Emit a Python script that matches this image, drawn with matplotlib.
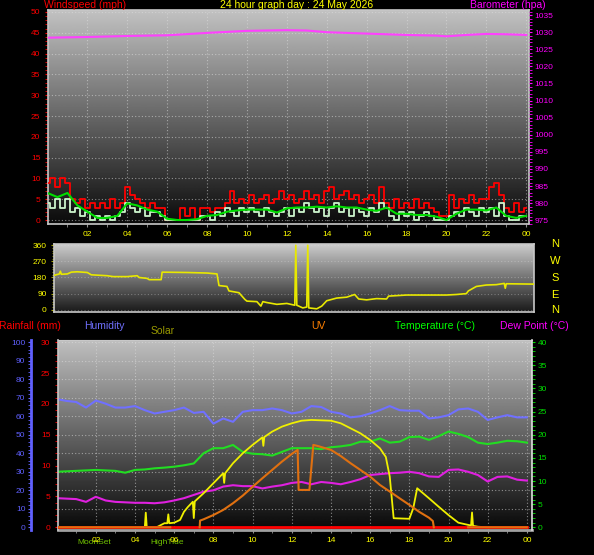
import numpy as np
import matplotlib
matplotlib.use('Agg')
import matplotlib.pyplot as plt
from matplotlib.ticker import MultipleLocator

plt.rcParams['font.family'] = ['Liberation Sans', 'DejaVu Sans']

W, H = 594, 555

# ---- top graph: wind (mph) every 15 min, 10-min avg every 30 min, barometer (hpa)
wind_hours = [i * 0.25 for i in range(97)]
gust = [9, 10, 8, 10, 9, 5, 4, 5,
        3, 4, 3, 4, 3, 5, 3, 4,
        8, 6, 5, 4, 3, 4, 3, 3,
        0, 0, 0, 3, 1, 3, 0, 3,
        3, 2, 3, 3, 4, 7, 4, 5,
        4, 6, 4, 5, 6, 4, 5, 7,
        5, 6, 4, 5, 7, 5, 6, 4,
        7, 8, 5, 6, 7, 5, 6, 4,
        5, 6, 4, 8, 4, 3, 5, 3,
        4, 3, 5, 3, 4, 3, 2, 1,
        1, 6, 3, 5, 4, 6, 4, 5,
        5, 8, 9, 6, 3, 2, 4, 2,
        3]
speed = [4, 3, 5, 3, 5, 2, 3, 1,
         2, 0, 1, 0, 1, 0, 1, 2,
         4, 3, 2, 3, 1, 2, 2, 1,
         0, 0, 0, 0, 0, 0, 0, 1,
         1, 0, 2, 1, 3, 2, 1, 3,
         2, 3, 2, 1, 3, 2, 1, 2,
         3, 1, 3, 2, 4, 3, 2, 3,
         1, 3, 4, 2, 3, 1, 3, 2,
         1, 3, 2, 4, 3, 1, 0, 2,
         1, 2, 0, 1, 2, 1, 0, 0,
         0, 1, 2, 1, 3, 2, 1, 3,
         2, 3, 1, 4, 1, 0, 0, 1,
         1]
avg_hours = [i * 0.5 for i in range(49)]
avg_wind = [6.5, 5.5, 6.5, 3.5, 2, 0.5, 0.5, 1, 4, 3.5, 2.5, 2, 0.3, 0, 0, 0.2,
            1, 1.2, 2, 2.3, 2.5, 2.5, 2.5, 1.8, 2.8, 3, 3, 3.2, 3, 3.3, 3, 3,
            2.5, 2.2, 3, 1.5, 1.5, 1.2, 1.2, 0.8, 0, 1.5, 2.5, 2.5, 2.3, 3, 1.0,
            0.5, 1]
baro_hours = [0, 2, 4, 6, 8, 10, 12, 13, 14, 16, 17, 18, 19.5, 20, 21, 22, 23, 24]
baro = [1028.4, 1028.6, 1028.9, 1029.1, 1029.8, 1030.4, 1030.6, 1030.5, 1030.0,
        1029.6, 1029.4, 1029.2, 1029.0, 1028.8, 1029.2, 1029.5, 1029.4, 1029.2]

# ---- middle graph: wind direction (deg)
dir_hours = [0.33, 0.6, 0.65, 0.7, 1.0, 1.2, 1.5, 2.0, 2.2, 3.0, 3.3, 4.0, 4.5, 4.6,
             5.0, 5.1, 5.7, 5.75, 7.0, 8.0, 8.5, 8.6, 9.0, 9.1, 9.6, 9.9, 10.0, 10.5,
             10.7, 10.8, 11.0, 11.5, 12.0, 12.4, 12.45, 12.5, 12.8, 13.0, 13.05, 13.1,
             13.5, 13.75, 14.0, 14.5, 15.0, 15.4, 15.6, 16.0, 16.5, 17.0, 17.1, 18.0,
             19.0, 20.0, 20.5, 21.0, 21.1, 21.5, 22.0, 22.5, 22.9, 22.95, 23.0, 24.4]
dir_deg = [192, 200, 215, 198, 200, 210, 212, 208, 195, 190, 185, 185, 190, 180,
           175, 168, 168, 210, 208, 205, 200, 135, 130, 105, 95, 57, 48, 45,
           20, 45, 40, 30, 35, 25, 360, 25, 10, 15, 360, 10,
           5, 20, 50, 65, 70, 85, 60, 55, 62, 60, 76, 82,
           82, 82, 85, 90, 105, 130, 138, 140, 147, 120, 145, 143]

# ---- bottom graph: humidity (%), temperature / dew point (C), solar, UV, rain
th_hours = [i * 0.5 for i in range(49)]
humidity = [69.3, 68.3, 67.7, 64.7, 68.5, 66.8, 64.7, 64.7, 65.5, 63.3, 61.5, 62.4,
            63.3, 64.7, 61.8, 62.4, 56.0, 58.8, 57.0, 62.4, 63.3, 63.3, 64.2, 63.3,
            61.5, 62.4, 65.5, 65.0, 62.4, 61.5, 59.4, 60.0, 61.5, 63.3, 65.5, 63.3,
            63.0, 63.0, 58.8, 59.4, 60.6, 63.7, 64.2, 62.4, 58.0, 59.4, 60.6, 59.4,
            59.4]
temperature = [12.0, 12.1, 12.2, 12.3, 12.4, 12.3, 12.2, 11.8, 12.4, 12.5, 12.75, 12.9,
               13.1, 13.4, 13.8, 16.0, 17.1, 17.1, 17.8, 16.3, 15.9, 15.8, 15.5, 16.3,
               17.1, 17.1, 17.1, 16.9, 17.3, 17.5, 17.8, 18.5, 18.5, 19.2, 18.3, 18.5,
               19.5, 19.6, 18.9, 19.7, 20.7, 20.2, 19.5, 18.3, 18.0, 18.3, 18.7, 18.6,
               18.3]
dew_point = [6.3, 6.2, 6.1, 5.5, 6.6, 5.8, 5.5, 5.4, 5.3, 5.3, 5.2, 5.4,
             5.8, 6.3, 7.0, 7.7, 8.0, 8.8, 9.1, 8.9, 8.9, 8.4, 8.8, 9.1,
             9.6, 9.8, 9.3, 9.8, 9.6, 9.3, 9.8, 10.4, 11.3, 11.5, 11.7, 11.8,
             12.0, 11.7, 11.0, 10.9, 12.4, 12.5, 12.0, 11.3, 9.9, 10.9, 11.0, 10.3,
             10.1]
solar_hours = [0, 4.5, 4.55, 4.6, 5.1, 5.5, 5.65, 5.7, 5.75, 6.0, 6.3, 6.5, 6.7, 6.95,
               7.0, 7.05, 7.5, 8.0, 8.5, 8.55, 8.6, 9.0, 9.5, 10.0, 10.5, 10.55, 10.6,
               11.0, 11.5, 12.0, 12.5, 13.0, 14.0, 14.5, 15.0, 15.5, 16.0, 16.5, 16.8,
               17.0, 17.2, 18.0, 18.2, 18.4, 18.5, 19.0, 19.5, 20.0, 20.5, 21.0, 21.15,
               21.2, 21.25, 21.5, 22.0, 24.0]
solar = [0, 0, 79, 0, 0, 22, 22, 70, 22, 25, 40, 84, 110, 138,
         50, 140, 184, 238, 292, 240, 292, 346, 400, 445, 486, 440, 488,
         517, 544, 562, 576, 580, 576, 562, 535, 508, 472, 427, 380,
         274, 49, 46, 103, 211, 202, 157, 111, 66, 25, 13, 10,
         80, 8, 3, 0, 0]
uv_hours = [0, 5.8, 5.85, 7.28, 7.3, 7.32, 7.5, 8, 8.5, 9, 9.5, 10, 10.5, 11, 11.5, 12,
            12.3, 12.35, 12.9, 13.1, 13.3, 14, 14.5, 15, 15.5, 16, 16.5, 17, 17.5, 18,
            18.5, 19, 19.2, 19.25, 19.3, 20.95, 21, 24]
uv = [0, 0, np.nan, np.nan, 0, 0.58, 0.69, 1.06, 1.5, 2.08, 2.74, 3.5, 4.24, 4.96, 5.68,
      6.34, 6.69, 3.23, 3.23, 7.12, 7.04, 6.69, 6.16, 5.54, 4.96, 4.38, 3.66, 3.09,
      2.51, 1.94, 1.34, 0.83, 0.54, 0, np.nan, np.nan, 0, 0]
rain_hours = [0, 24]
rain = [0, 0]

hour_ticks = list(range(2, 25, 2))
hour_labels = ['%02d' % (h % 24) for h in hour_ticks]

YELLOW = '#ffff00'
SPINE = '#c8c8c8'


def fx(x):
    return x / W


def fy(y):
    return 1 - y / H


def gradient(ax, top, bottom):
    g = np.linspace(bottom, top, 256).reshape(-1, 1)
    ax.imshow(g, extent=[0, 1, 0, 1], transform=ax.transAxes, origin='lower',
              aspect='auto', cmap='gray', vmin=0, vmax=1, zorder=0,
              interpolation='bilinear')


def hide(ax):
    for s in ax.spines.values():
        s.set_visible(False)
    ax.set_yticks([])


def grid_style(ax, **kw):
    ax.grid(True, color='#e0e0e0', alpha=0.55, linestyle=(0, (1, 2)), lw=0.8, **kw)


fig = plt.figure(figsize=(W / 100, H / 100), dpi=100, facecolor='black')

# ================= top: wind + barometer =================
ax1 = fig.add_axes([fx(48), fy(224), fx(481), 214 / H])
gradient(ax1, 0.76, 0.04)
ax1.step(wind_hours, gust, where='mid', color='#ff0000', lw=1.3, zorder=3)
ax1.step(wind_hours, speed, where='mid', color='#ccf5cc', lw=1.3, zorder=4)
ax1.plot(avg_hours, avg_wind, color='#00dd00', lw=1.5, zorder=5)
ax1.set_xlim(0.025, 24.14)
ax1.set_ylim(-0.96, 50.48)
ax1.yaxis.set_major_locator(MultipleLocator(5))
ax1.yaxis.set_minor_locator(MultipleLocator(1))
ax1.set_xticks(hour_ticks)
ax1.set_xticklabels(hour_labels)
ax1.xaxis.set_minor_locator(MultipleLocator(1))
ax1.tick_params(axis='y', which='both', colors='#ff0000', labelsize=6, length=2.5, pad=3)
ax1.tick_params(axis='x', which='both', colors='#909090', labelcolor=YELLOW,
                labelsize=6, length=2, pad=3)
grid_style(ax1)
for s in ax1.spines.values():
    s.set_color(SPINE)
    s.set_linewidth(1.2)

ax1b = ax1.twinx()
ax1b.plot(baro_hours, baro, color='#ff40ff', lw=1.5, zorder=6)
ax1b.set_ylim(973.9, 1036.5)
ax1b.yaxis.set_major_locator(MultipleLocator(5))
ax1b.yaxis.set_minor_locator(MultipleLocator(1))
ax1b.tick_params(axis='y', which='both', colors='#ff00ff', labelsize=6, length=2, pad=2)
for s in ax1b.spines.values():
    s.set_visible(False)

# ================= middle: wind direction =================
ax2 = fig.add_axes([fx(54), fy(312), fx(480), 68 / H])
gradient(ax2, 0.8, 0.1)
ax2.plot(dir_hours, dir_deg, color='#e8e800', lw=1.2, zorder=3)
ax2.set_xlim(0.33, 24.39)
ax2.set_ylim(-12.9, 367.3)
ax2.set_yticks([0, 90, 180, 270, 360])
ax2.yaxis.set_minor_locator(MultipleLocator(15))
ax2.set_xticks([])
ax2.tick_params(axis='y', which='major', colors='#a0a000', labelcolor=YELLOW,
                labelsize=6, length=2.2, pad=3)
ax2.tick_params(axis='y', which='minor', colors='#a0a000', length=1.5)
ax2.grid(True, axis='y', color='#e0e0e0', alpha=0.35, linestyle=(0, (1, 2)), lw=0.8)
for s in ax2.spines.values():
    s.set_color(SPINE)
    s.set_linewidth(1.2)

for letter, yy in zip(['N', 'W', 'S', 'E', 'N'], [244, 261, 278, 295, 310]):
    fig.text(fx(555), fy(yy), letter, color=YELLOW, fontsize=8, ha='center', va='center')

# ================= bottom: humidity / temp / dew / solar / uv / rain =================
ax3 = fig.add_axes([fx(58), fy(530), fx(474), 190 / H])
gradient(ax3, 0.75, 0.03)
ax3.plot(th_hours, humidity, color='#7070ff', lw=1.5, zorder=3)
ax3.set_xlim(0.07, 24.26)
ax3.set_ylim(-1.46, 101.2)
ax3.yaxis.set_major_locator(MultipleLocator(10))
ax3.yaxis.set_minor_locator(MultipleLocator(2))
ax3.set_xticks(hour_ticks)
ax3.set_xticklabels(hour_labels)
ax3.xaxis.set_minor_locator(MultipleLocator(1))
ax3.tick_params(axis='y', which='both', colors='#6060ff', labelsize=6, length=2, pad=2)
ax3.tick_params(axis='x', which='both', colors='#909090', labelcolor=YELLOW,
                labelsize=6, length=2, pad=3)
grid_style(ax3)
ax3.spines['left'].set_position(('outward', 19.5))
ax3.spines['left'].set_color('#6060ff')
ax3.spines['left'].set_linewidth(2)
ax3.spines['bottom'].set_color('#a0a0a0')
ax3.spines['bottom'].set_linewidth(2)
ax3.spines['top'].set_color(SPINE)
ax3.spines['right'].set_visible(False)

ax3t = ax3.twinx()
ax3t.plot(th_hours, temperature, color='#22dd22', lw=1.5, zorder=3)
ax3t.plot(th_hours, dew_point, color='#e020e0', lw=1.5, zorder=3)
ax3t.set_ylim(-0.58, 40.48)
ax3t.yaxis.set_major_locator(MultipleLocator(5))
ax3t.yaxis.set_minor_locator(MultipleLocator(1))
ax3t.tick_params(axis='y', which='both', colors='#00dd00', labelsize=6, length=2.5, pad=1.5)
for k, s in ax3t.spines.items():
    s.set_visible(k == 'right')
ax3t.spines['right'].set_color('#e0e0e0')
ax3t.spines['right'].set_linewidth(1.2)

ax3s = ax3.twinx()
ax3s.plot(solar_hours, solar, color='#f0f000', lw=1.3, zorder=3)
ax3s.set_ylim(-14.6, 1012)
hide(ax3s)

ax3u = ax3.twinx()
ax3u.plot(uv_hours, uv, color='#e07010', lw=1.5, zorder=3)
ax3u.set_ylim(-0.234, 16.19)
hide(ax3u)

ax3r = ax3.twinx()
ax3r.plot(rain_hours, rain, color='#ff0000', lw=2, zorder=3)
ax3r.set_ylim(-0.44, 30.36)
ax3r.yaxis.set_ticks_position('left')
ax3r.yaxis.set_label_position('left')
ax3r.yaxis.set_major_locator(MultipleLocator(5))
ax3r.yaxis.set_minor_locator(MultipleLocator(1))
ax3r.tick_params(axis='y', which='both', colors='#ff0000', labelsize=6, length=2.5, pad=3)
for k, s in ax3r.spines.items():
    s.set_visible(k == 'left')
ax3r.spines['left'].set_color(SPINE)
ax3r.spines['left'].set_linewidth(1.2)
# uv zero line drawn over rain at the ends
ax3u.set_zorder(ax3r.get_zorder() + 0.1)

# ================= texts =================
fs = 7.5
fig.text(fx(85), fy(5), 'Windspeed (mph)', color='#ff0000', fontsize=fs, ha='center', va='center')
fig.text(fx(297), fy(5), '24 hour graph day : 24 May 2026', color=YELLOW, fontsize=fs,
         ha='center', va='center')
fig.text(fx(508), fy(5), 'Barometer (hpa)', color='#ff00ff', fontsize=fs, ha='center', va='center')

fig.text(fx(30), fy(326), 'Rainfall (mm)', color='#ff0000', fontsize=fs, ha='center', va='center')
fig.text(fx(104), fy(326), 'Humidity', color='#7070ff', fontsize=fs, ha='center', va='center')
fig.text(fx(163), fy(331), 'Solar', color='#999900', fontsize=fs, ha='center', va='center')
fig.text(fx(318), fy(326), 'UV', color='#ff8000', fontsize=fs, ha='center', va='center')
fig.text(fx(435), fy(326), 'Temperature (\u00b0C)', color='#00ff00', fontsize=fs,
         ha='center', va='center')
fig.text(fx(534), fy(326), 'Dew Point (\u00b0C)', color='#ff00ff', fontsize=fs,
         ha='center', va='center')

fig.text(fx(94), fy(542), 'MoonSet', color='#70c000', fontsize=6, ha='center', va='center',
         zorder=-1)
fig.text(fx(167), fy(542), 'HighTide', color='#70c000', fontsize=6, ha='center', va='center',
         zorder=-1)

fig.savefig('out.png', dpi=100, facecolor='black')
